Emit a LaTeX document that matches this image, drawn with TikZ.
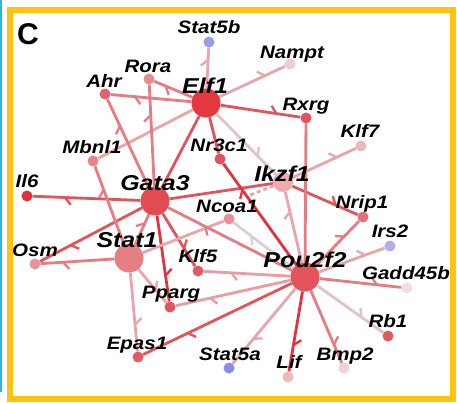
\documentclass[tikz,border=0pt]{standalone}
\usepackage{fontspec}
\newfontfamily\smallfont{Liberation Sans}[FakeStretch=1.14]
\newfontfamily\bigfont{Liberation Sans}[FakeStretch=1.16]
\newfontfamily\cfont{Liberation Sans}
\usetikzlibrary{decorations.markings}
\pgfdeclarelayer{back}
\pgfdeclarelayer{bg}
\pgfsetlayers{back,bg,main}
% edge colours
\definecolor{cA}{HTML}{E3323D}
\definecolor{cB}{HTML}{E2545C}
\definecolor{cC}{HTML}{E47C82}
\definecolor{cD}{HTML}{E9A6AA}
\definecolor{cDD}{HTML}{E99CA1}
\definecolor{cE}{HTML}{DFC3C5}
\definecolor{cF}{HTML}{D6D2D2}
% frame colours
\definecolor{cOrange}{HTML}{FFC20E}
\definecolor{cBlue}{HTML}{29B6E8}
% node colours
\definecolor{nStatb}{HTML}{9A9AF0}
\definecolor{nNampt}{HTML}{EDCDCF}
\definecolor{nRora}{HTML}{E58E90}
\definecolor{nAhr}{HTML}{E3616A}
\definecolor{nElf}{HTML}{E3383E}
\definecolor{nRxrg}{HTML}{E25560}
\definecolor{nKlfs}{HTML}{EBB8BB}
\definecolor{nMbnl}{HTML}{E68588}
\definecolor{nNr}{HTML}{E2525A}
\definecolor{nIkzf}{HTML}{ECADB0}
\definecolor{nIl}{HTML}{E3303B}
\definecolor{nGata}{HTML}{E34B53}
\definecolor{nNcoa}{HTML}{E98F95}
\definecolor{nNrip}{HTML}{E4707A}
\definecolor{nIrs}{HTML}{ADADF0}
\definecolor{nStat}{HTML}{E77E82}
\definecolor{nOsm}{HTML}{E9949A}
\definecolor{nKlff}{HTML}{E45C63}
\definecolor{nPou}{HTML}{E3535B}
\definecolor{nGadd}{HTML}{EEE0E0}
\definecolor{nPparg}{HTML}{E2535B}
\definecolor{nRb}{HTML}{E35760}
\definecolor{nEpas}{HTML}{E35A62}
\definecolor{nStata}{HTML}{8A8AF0}
\definecolor{nLif}{HTML}{ECBABD}
\definecolor{nBmp}{HTML}{EED3D3}
\begin{document}
\begin{tikzpicture}[x=1pt,y=-1pt,
  gnode/.style={circle, inner sep=0pt, minimum size=11pt, draw=none},
  hub/.style={circle, inner sep=0pt, minimum size=29pt, draw=none},
  lab/.style={anchor=base, inner sep=0pt, font=\smallfont\bfseries\itshape\fontsize{18}{18}\selectfont},
  biglab/.style={anchor=base, inner sep=0pt, font=\bigfont\bfseries\itshape\fontsize{21.5}{21.5}\selectfont},
  edge/.style={line width=2.8pt},
  barb/.style={postaction={decorate, decoration={markings,
     mark=at position #1 with {\draw[line width=2.3pt, line cap=butt] (0,0) -- (-6pt,7pt);}}}},
  barb/.default=0.7]
\useasboundingbox (0,0) rectangle (457,402);
\begin{pgfonlayer}{back}
\fill[white] (0,0) rectangle (457,402);
\end{pgfonlayer}
\draw[line width=2.5pt, color=cBlue] (1.2,0) -- (1.2,392);
\draw[line width=6pt, color=cOrange] (10,10) rectangle (453,399);
\node[font=\cfont\bfseries\fontsize{30}{30}\selectfont, inner sep=0pt] (C) at (28,34) {C};

% nodes
\node[gnode, fill=nStatb] (Stat5b) at (209,42) {};
\node[gnode, fill=nNampt] (Nampt) at (290,64) {};
\node[gnode, fill=nRora] (Rora) at (149,79) {};
\node[gnode, fill=nAhr] (Ahr) at (105,94) {};
\node[hub, fill=nElf] (Elf1) at (206,103) {};
\node[gnode, fill=nRxrg] (Rxrg) at (306,118) {};
\node[gnode, fill=nKlfs] (Klf7) at (361,146) {};
\node[gnode, fill=nMbnl] (Mbnl1) at (93,161) {};
\node[gnode, fill=nNr] (Nr3c1) at (220,159) {};
\node[circle, inner sep=0pt, minimum size=20pt, fill=nIkzf] (Ikzf1) at (283,182) {};
\node[gnode, fill=nIl] (Il6) at (27,196) {};
\node[hub, fill=nGata] (Gata3) at (155,201) {};
\node[gnode, fill=nNcoa] (Ncoa1) at (229,219) {};
\node[gnode, fill=nNrip] (Nrip1) at (363,217) {};
\node[gnode, fill=nIrs] (Irs2) at (390,246) {};
\node[hub, fill=nStat] (Stat1) at (129,258) {};
\node[gnode, fill=nOsm] (Osm) at (35,264) {};
\node[gnode, fill=nKlff] (Klf5) at (198,271) {};
\node[hub, fill=nPou] (Pou2f2) at (305,277) {};
\node[gnode, fill=nGadd] (Gadd45b) at (407,288) {};
\node[gnode, fill=nPparg] (Pparg) at (170,307) {};
\node[gnode, fill=nRb] (Rb1) at (388,336) {};
\node[gnode, fill=nEpas] (Epas1) at (138,357) {};
\node[gnode, fill=nStata] (Stat5a) at (229,368) {};
\node[gnode, fill=nLif] (Lif) at (288,377) {};
\node[gnode, fill=nBmp] (Bmp2) at (344,368) {};
\coordinate (dz) at (250,195);

% edges
\begin{pgfonlayer}{bg}
\draw[edge, color=cD, barb] (Elf1) -- (Stat5b);
\draw[edge, color=cD, barb] (Elf1) -- (Nampt);
\draw[edge, color=cC, barb] (Elf1) -- (Rora);
\draw[edge, color=cC, barb] (Elf1) -- (Ahr);
\draw[edge, color=cD] (Elf1) -- (Mbnl1);
\draw[edge, color=cB, barb] (Elf1) -- (Rxrg);
\draw[edge, color=cB] (Elf1) -- (Gata3);
\draw[edge, color=cB] (Elf1) -- (Nr3c1);
\draw[edge, color=cE, barb] (Elf1) -- (Ikzf1);
\draw[edge, color=cC, barb] (Gata3) -- (Rora);
\draw[edge, color=cC, barb] (Gata3) -- (Ahr);
\draw[edge, color=cB, barb] (Gata3) -- (Il6);
\draw[edge, color=cB, barb] (Gata3) -- (Osm);
\draw[edge, color=cB] (Gata3) -- (Ikzf1);
\draw[edge, color=cB, barb=0.66] (Gata3) -- (Klf5);
\draw[edge, color=cA, barb] (Gata3) -- (Pparg);
\draw[edge, color=cC, barb] (Stat1) -- (Gata3);
\draw[edge, color=cC, barb] (Stat1) -- (Mbnl1);
\draw[edge, color=cC, barb] (Stat1) -- (Osm);
\draw[edge, color=cD] (Stat1) -- (Ncoa1);
\draw[edge, color=cD, barb=0.62] (Stat1) -- (Pparg);
\draw[edge, color=cD, barb=0.66] (Stat1) -- (Epas1);
\draw[edge, color=cD, barb] (Ikzf1) -- (Klf7);
\draw[edge, color=cB, barb=0.66] (Ikzf1) -- (Nrip1);
\draw[edge, color=cD, dash pattern=on 4pt off 3pt] (Ikzf1) -- (dz);
\draw[edge, color=cD, barb=0.72] (Pou2f2) -- (Ikzf1);
\draw[edge, color=cC] (Pou2f2) -- (Rxrg);
\draw[edge, color=cC, barb=0.66] (Pou2f2) -- (Nrip1);
\draw[edge, color=cA, barb=0.74] (Pou2f2) -- (Nr3c1);
\draw[edge, color=cC, barb] (Pou2f2) -- (Gata3);
\draw[edge, color=cF, barb] (Pou2f2) -- (Ncoa1);
\draw[edge, color=cDD, barb=0.68] (Pou2f2) -- (Klf5);
\draw[edge, color=cDD, barb] (Pou2f2) -- (Pparg);
\draw[edge, color=cB, barb] (Pou2f2) -- (Epas1);
\draw[edge, color=cD, barb=0.67] (Pou2f2) -- (Stat5a);
\draw[edge, color=cA, barb=0.67] (Pou2f2) -- (Lif);
\draw[edge, color=cC, barb=0.75] (Pou2f2) -- (Bmp2);
\draw[edge, color=cE, barb=0.67] (Pou2f2) -- (Rb1);
\draw[edge, color=cC, barb] (Pou2f2) -- (Gadd45b);
\draw[edge, color=cD, barb] (Pou2f2) -- (Irs2);
\end{pgfonlayer}

% labels
\node[lab] (tStat5b) at (209,33) {Stat5b};
\node[lab] (tNampt) at (292,58) {Nampt};
\node[lab] (tRora) at (148,72) {Rora};
\node[lab] (tAhr) at (104,87) {Ahr};
\node[biglab] (tElf1) at (205,93) {Elf1};
\node[lab] (tRxrg) at (306,110) {Rxrg};
\node[lab] (tKlf7) at (360,137) {Klf7};
\node[lab] (tMbnl1) at (92,153) {Mbnl1};
\node[lab] (tNr3c1) at (219,151) {Nr3c1};
\node[biglab] (tIkzf1) at (282,181) {Ikzf1};
\node[lab] (tIl6) at (27,187) {Il6};
\node[biglab] (tGata3) at (155,190) {Gata3};
\node[lab] (tNcoa1) at (227,212) {Ncoa1};
\node[lab] (tNrip1) at (362,208) {Nrip1};
\node[lab] (tIrs2) at (390,237) {Irs2};
\node[biglab] (tStat1) at (127,247) {Stat1};
\node[lab] (tOsm) at (35,256) {Osm};
\node[lab] (tKlf5) at (198,262) {Klf5};
\node[biglab] (tPou2f2) at (305,267) {Pou2f2};
\node[lab] (tGadd45b) at (406,279) {Gadd45b};
\node[lab] (tPparg) at (171,298) {Pparg};
\node[lab] (tRb1) at (388,327) {Rb1};
\node[lab] (tEpas1) at (137,349) {Epas1};
\node[lab] (tStat5a) at (230,360) {Stat5a};
\node[lab] (tLif) at (289,368) {Lif};
\node[lab] (tBmp2) at (345,360) {Bmp2};
\end{tikzpicture}
\end{document}
